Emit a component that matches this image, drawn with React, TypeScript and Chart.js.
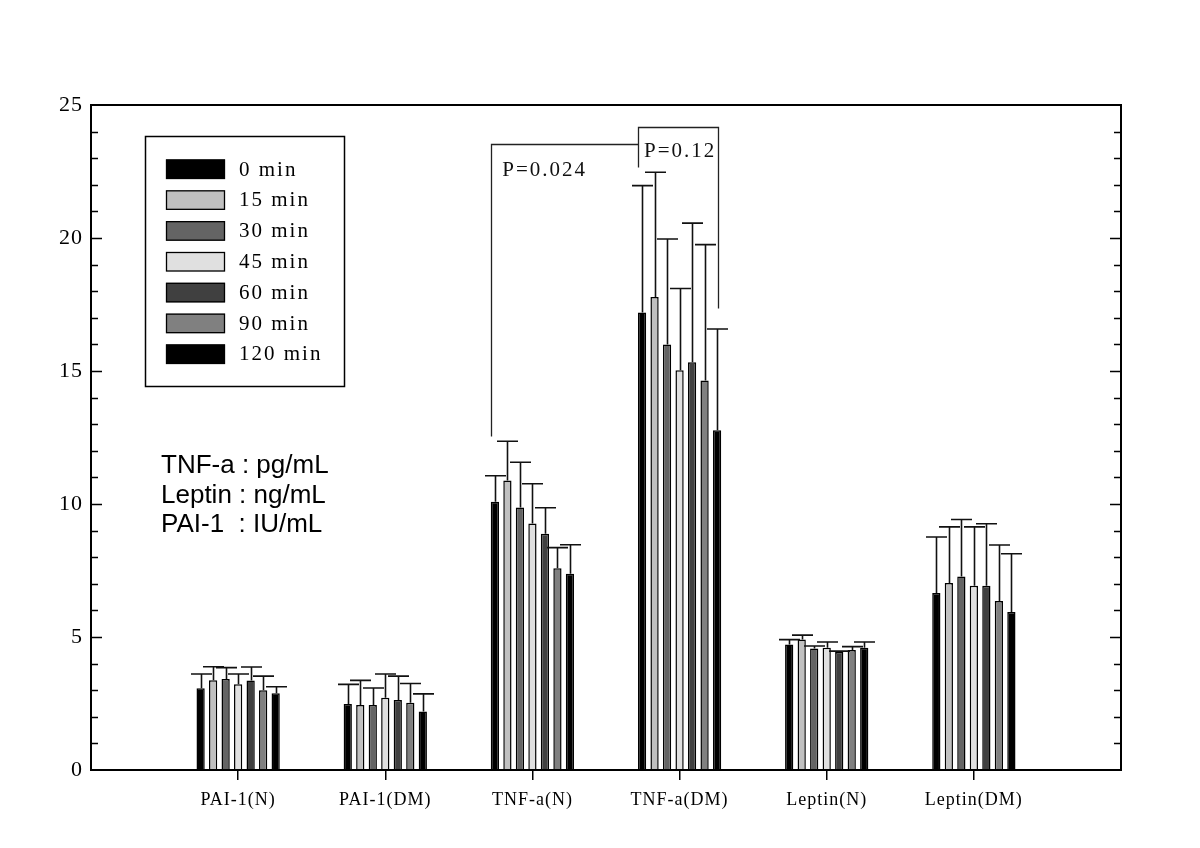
import React, { useEffect, useRef } from "react";
import { Chart, registerables } from "chart.js";

Chart.register(...registerables);

// ---------- data ----------
const categories = ["PAI-1(N)", "PAI-1(DM)", "TNF-a(N)", "TNF-a(DM)", "Leptin(N)", "Leptin(DM)"];
const seriesLabels = ["0 min", "15 min", "30 min", "45 min", "60 min", "90 min", "120 min"];
const seriesColors = ["#000000", "#c0c0c0", "#646464", "#e0e0e0", "#404040", "#808080", "#000000"];

const mean0 = [3.07, 2.48, 10.08, 17.2, 4.72, 6.65];
const mean15 = [3.37, 2.44, 10.88, 17.78, 4.91, 7.03];
const mean30 = [3.42, 2.44, 9.87, 16.0, 4.57, 7.27];
const mean45 = [3.22, 2.72, 9.27, 15.03, 4.6, 6.93];
const mean60 = [3.36, 2.63, 8.88, 15.33, 4.44, 6.93];
const mean90 = [3.0, 2.53, 7.58, 14.64, 4.51, 6.35];
const mean120 = [2.89, 2.2, 7.38, 12.77, 4.6, 5.94];

const sd0 = [0.54, 0.74, 0.98, 4.77, 0.18, 2.11];
const sd15 = [0.51, 0.93, 1.48, 4.69, 0.16, 2.11];
const sd30 = [0.43, 0.64, 1.7, 3.96, 0.09, 2.15];
const sd45 = [0.39, 0.89, 1.49, 3.07, 0.21, 2.21];
const sd60 = [0.51, 0.9, 0.98, 5.23, 0.03, 2.33];
const sd90 = [0.53, 0.72, 0.78, 5.11, 0.13, 2.11];
const sd120 = [0.24, 0.66, 1.09, 3.81, 0.21, 2.19];

const yTicks = [0, 5, 10, 15, 20, 25];
const unitNotes = ["TNF-a : pg/mL", "Leptin : ng/mL", "PAI-1  : IU/mL"];

// significance brackets in data units (x: category axis position, y: value)
const bracketA = [[2.718, 12.57], [2.718, 23.52], [3.718, 23.52]];
const bracketB = [[3.718, 22.68], [3.718, 24.18], [4.263, 24.18], [4.263, 17.36]];
const pLabelA = { text: "P=0.024", x: 2.795, y: 22.55 };
const pLabelB = { text: "P=0.12", x: 3.758, y: 23.25 };

const means = [mean0, mean15, mean30, mean45, mean60, mean90, mean120];
const sds = [sd0, sd15, sd30, sd45, sd60, sd90, sd120];

const SERIF = '"Liberation Serif", "Times New Roman", serif';
const SANS = '"Liberation Sans", Arial, sans-serif';

const spacingPlugin = {
  id: "spacing",
  beforeUpdate(chart: any) {
    (chart.ctx as any).letterSpacing = "1px";
  },
  beforeDraw(chart: any) {
    (chart.ctx as any).letterSpacing = "1px";
  },
};

const framePlugin = {
  id: "frame",
  afterDraw(chart: any) {
    const { ctx, chartArea } = chart;
    const y = chart.scales.y;
    ctx.save();
    ctx.strokeStyle = "#000";
    ctx.lineWidth = 1.5;
    for (let v = 1; v < 25; v++) {
      const py = Math.round(y.getPixelForValue(v)) + 0.5;
      const len = v % 5 === 0 ? 11 : 7;
      ctx.beginPath();
      ctx.moveTo(chartArea.left, py);
      ctx.lineTo(chartArea.left + len, py);
      ctx.moveTo(chartArea.right, py);
      ctx.lineTo(chartArea.right - len, py);
      ctx.stroke();
    }
    ctx.lineWidth = 2;
    ctx.strokeRect(chartArea.left, chartArea.top, chartArea.right - chartArea.left, chartArea.bottom - chartArea.top);
    ctx.restore();
  },
};

const errorBarPlugin = {
  id: "errorBars",
  afterDatasetsDraw(chart: any) {
    const { ctx } = chart;
    const y = chart.scales.y;
    ctx.save();
    ctx.strokeStyle = "#111";
    ctx.lineWidth = 1.6;
    chart.data.datasets.forEach((ds: any, d: number) => {
      const meta = chart.getDatasetMeta(d);
      meta.data.forEach((el: any, i: number) => {
        const v = ds.data[i].y;
        const top = y.getPixelForValue(v + ds.sd[i]);
        const x = Math.round(el.x) + 0.5;
        ctx.beginPath();
        ctx.moveTo(x, el.y);
        ctx.lineTo(x, top);
        ctx.moveTo(x - 10.5, top);
        ctx.lineTo(x + 10.5, top);
        ctx.stroke();
      });
    });
    ctx.restore();
  },
};

const annotationPlugin = {
  id: "annot",
  afterDraw(chart: any) {
    const { ctx } = chart;
    const xs = chart.scales.x;
    const ys = chart.scales.y;
    ctx.save();
    // brackets
    ctx.strokeStyle = "#222";
    ctx.lineWidth = 1.3;
    [bracketA, bracketB].forEach((pts) => {
      ctx.beginPath();
      pts.forEach((p, i) => {
        const px = Math.round(xs.getPixelForValue(p[0])) + 0.5;
        const py = Math.round(ys.getPixelForValue(p[1])) + 0.5;
        if (i === 0) ctx.moveTo(px, py);
        else ctx.lineTo(px, py);
      });
      ctx.stroke();
    });
    // p labels
    ctx.fillStyle = "#111";
    ctx.font = `21px ${SERIF}`;
    (ctx as any).letterSpacing = "2px";
    ctx.textAlign = "left";
    ctx.textBaseline = "middle";
    [pLabelA, pLabelB].forEach((l) => {
      ctx.fillText(l.text, xs.getPixelForValue(l.x), ys.getPixelForValue(l.y));
    });

    // legend box
    const lx = 145, ly = 136, lw = 199, lh = 250;
    ctx.lineWidth = 1.5;
    ctx.strokeStyle = "#000";
    ctx.strokeRect(lx + 0.5, ly + 0.5, lw, lh);
    chart.data.datasets.forEach((ds: any, i: number) => {
      const sy = 159.5 + i * 30.83;
      ctx.fillStyle = ds.backgroundColor;
      ctx.fillRect(166, sy, 59, 19.5);
      ctx.lineWidth = 1.3;
      ctx.strokeStyle = "#000";
      ctx.strokeRect(166.5, sy + 0.5, 58, 18.5);
      ctx.fillStyle = "#000";
      ctx.font = `21px ${SERIF}`;
      (ctx as any).letterSpacing = "2px";
      ctx.fillText(ds.label, 239, sy + 10.5);
    });

    // unit notes
    ctx.font = `26px ${SANS}`;
    (ctx as any).letterSpacing = "0px";
    ctx.textBaseline = "alphabetic";
    ctx.fillStyle = "#000";
    unitNotes.forEach((t, i) => {
      ctx.fillText(t, 161, 473 + i * 29.5);
    });
    ctx.restore();
  },
};

export default function App() {
  const ref = useRef<HTMLCanvasElement | null>(null);

  useEffect(() => {
    if (!ref.current) return;
    const datasets = seriesLabels.map((label, s) => ({
      label,
      data: categories.map((_, i) => ({ x: i + 1, y: means[s][i] })),
      sd: sds[s],
      backgroundColor: seriesColors[s],
      borderColor: "#000",
      borderWidth: 1.5,
      categoryPercentage: 0.595,
      barPercentage: 0.66,
    }));

    const chart = new Chart(ref.current, {
      type: "bar",
      data: { datasets: datasets as any },
      options: {
        responsive: false,
        animation: false,
        layout: { padding: { left: 0, top: 105, right: 79, bottom: 0 } },
        plugins: {
          legend: { display: false },
          tooltip: { enabled: false },
        },
        scales: {
          x: {
            type: "linear",
            offset: false,
            min: 0,
            max: 7,
            afterBuildTicks: (scale: any) => {
              scale.ticks = categories.map((_, i) => ({ value: i + 1 }));
            },
            afterFit: (scale: any) => {
              scale.height = 78;
            },
            grid: {
              display: true,
              offset: false,
              drawOnChartArea: false,
              drawTicks: true,
              tickLength: 10,
              color: "#000",
              lineWidth: 1.5,
            },
            border: { display: false },
            ticks: {
              autoSkip: false,
              maxRotation: 0,
              padding: 9,
              color: "#000",
              font: { family: SERIF, size: 18 },
              callback: (v: any) => categories[Math.round(v) - 1] ?? "",
            },
          },
          y: {
            min: 0,
            max: 25,
            afterBuildTicks: (scale: any) => {
              scale.ticks = yTicks.map((v) => ({ value: v }));
            },
            afterFit: (scale: any) => {
              scale.width = 91;
            },
            grid: { display: false, drawTicks: false },
            border: { display: false },
            ticks: {
              padding: 8,
              color: "#000",
              font: { family: SERIF, size: 22 },
            },
          },
        },
      },
      plugins: [spacingPlugin, errorBarPlugin, framePlugin, annotationPlugin],
    });
    return () => chart.destroy();
  }, []);

  return (
    <div style={{ position: "fixed", left: 0, top: 0, width: 1200, height: 848, background: "#fff" }}>
      <canvas ref={ref} width={1200} height={848} style={{ width: 1200, height: 848 }} />
    </div>
  );
}
